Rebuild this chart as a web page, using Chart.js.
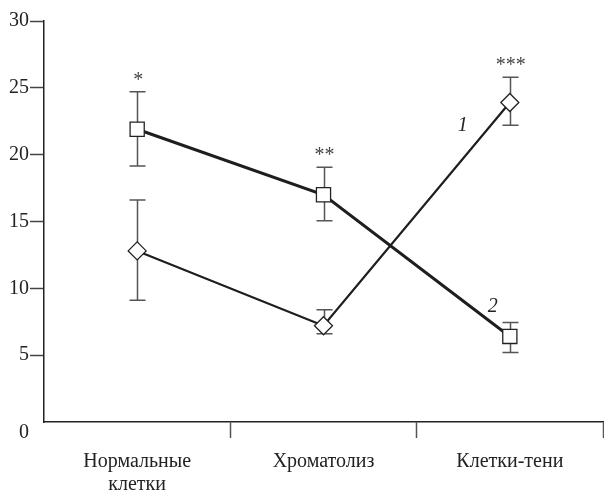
<!DOCTYPE html>
<html>
<head>
<meta charset="utf-8">
<script src="https://cdn.jsdelivr.net/npm/chart.js@4.4.1/dist/chart.umd.min.js"></script>
<style>
  html, body { margin: 0; padding: 0; background: #fff; }
  #wrap { width: 604px; height: 493px; }
</style>
</head>
<body>
<div id="wrap"><canvas id="c" width="604" height="493"></canvas></div>
<script>
// Categories of neurons
const categories = [['Нормальные', 'клетки'], 'Хроматолиз', 'Клетки-тени'];
const yTickValues = [0, 5, 10, 15, 20, 25, 30];

// Curve 1 (diamonds): mean and error-bar limits
const line1Mean = [12.8, 7.2, 23.9];
const line1Low  = [9.1, 6.6, 22.2];
const line1High = [16.6, 8.4, 25.8];

// Curve 2 (squares): mean and error-bar limits
const line2Mean = [21.9, 17.0, 6.4];
const line2Low  = [19.15, 15.05, 5.2];
const line2High = [24.7, 19.05, 7.45];

// Significance marks per category
const significance = ['*', '**', '***'];
// Curve numbers
const curveNames = ['1', '2'];

const SERIF = '"Liberation Serif", "Times New Roman", serif';
const FONT_SIZE = 20;

const extras = {
  id: 'extras',
  beforeDatasetsDraw(chart) {
    const { ctx, scales: { x, y } } = chart;
    ctx.save();
    ctx.strokeStyle = '#555';
    ctx.lineWidth = 1.5;
    [[line1Low, line1High], [line2Low, line2High]].forEach(([lo, hi]) => {
      lo.forEach((l, i) => {
        const px = Math.round(x.getPixelForValue(i)) + 0.5;
        const yl = y.getPixelForValue(l);
        const yh = y.getPixelForValue(hi[i]);
        ctx.beginPath();
        ctx.moveTo(px, yl); ctx.lineTo(px, yh);
        ctx.moveTo(px - 8, yl); ctx.lineTo(px + 8, yl);
        ctx.moveTo(px - 8, yh); ctx.lineTo(px + 8, yh);
        ctx.stroke();
      });
    });
    ctx.restore();
  },
  afterDatasetsDraw(chart) {
    const { ctx, scales: { x, y } } = chart;
    ctx.save();
    // significance asterisks above the highest error bar of each group
    ctx.fillStyle = '#444';
    ctx.font = FONT_SIZE + 'px ' + SERIF;
    ctx.textAlign = 'center';
    ctx.textBaseline = 'alphabetic';
    significance.forEach((s, i) => {
      const top = Math.max(line1High[i], line2High[i]);
      const px = x.getPixelForValue(i) + 1;
      ctx.fillText(s, px, y.getPixelForValue(top) - 6);
    });
    // curve numbers beside the lines
    ctx.fillStyle = '#222';
    ctx.font = 'italic ' + FONT_SIZE + 'px ' + SERIF;
    ctx.textBaseline = 'middle';
    const anchors = [[1.747, 22.2], [1.908, 8.6]];
    curveNames.forEach((n, k) => {
      ctx.fillText(n, x.getPixelForValue(anchors[k][0]), y.getPixelForValue(anchors[k][1]));
    });
    // zero label sits below the corner
    ctx.font = FONT_SIZE + 'px ' + SERIF;
    ctx.textAlign = 'right';
    ctx.fillText('0', x.left - 15, y.getPixelForValue(0) + 11);
    ctx.restore();
  }
};

new Chart(document.getElementById('c'), {
  type: 'line',
  data: {
    labels: categories,
    datasets: [
      {
        label: curveNames[0],
        data: line1Mean,
        borderColor: '#1e1e1e',
        borderWidth: 2.2,
        pointStyle: 'rectRot',
        pointRadius: 9,
        pointBackgroundColor: '#fff',
        pointBorderColor: '#222',
        pointBorderWidth: 1.3,
        tension: 0
      },
      {
        label: curveNames[1],
        data: line2Mean,
        borderColor: '#1e1e1e',
        borderWidth: 3,
        pointStyle: 'rect',
        pointRadius: 10,
        pointBackgroundColor: '#fff',
        pointBorderColor: '#222',
        pointBorderWidth: 1.3,
        tension: 0
      }
    ]
  },
  options: {
    responsive: false,
    devicePixelRatio: 1,
    animation: false,
    layout: { autoPadding: false, padding: { top: 21, right: 1, left: 0, bottom: 0 } },
    plugins: { legend: { display: false }, tooltip: { enabled: false } },
    scales: {
      x: {
        offset: true,
        grid: {
          offset: true,
          drawOnChartArea: false,
          tickLength: 16,
          tickWidth: 1.5,
          tickColor: c => c.index === 0 ? 'rgba(0,0,0,0)' : '#555'
        },
        border: { color: '#222', width: 1.5 },
        ticks: {
          color: '#222',
          font: { family: SERIF, size: FONT_SIZE, lineHeight: 1.15 },
          padding: 12,
          maxRotation: 0,
          autoSkip: false
        },
        afterFit: s => { s.height = 71; s.paddingLeft = 0; s.paddingRight = 0; }
      },
      y: {
        min: 0,
        max: 30,
        afterBuildTicks: s => { s.ticks = yTickValues.map(v => ({ value: v })); },
        grid: {
          drawOnChartArea: false,
          tickLength: 14,
          tickWidth: 1.5,
          tickColor: c => (c.tick && c.tick.value === 0) ? 'rgba(0,0,0,0)' : '#444'
        },
        border: { color: '#222', width: 1.5 },
        ticks: {
          color: '#222',
          font: { family: SERIF, size: FONT_SIZE },
          padding: 1,
          callback: v => v === 0 ? '' : String(v)
        },
        afterFit: s => { s.width = 44; }
      }
    }
  },
  plugins: [extras]
});
</script>
</body>
</html>
